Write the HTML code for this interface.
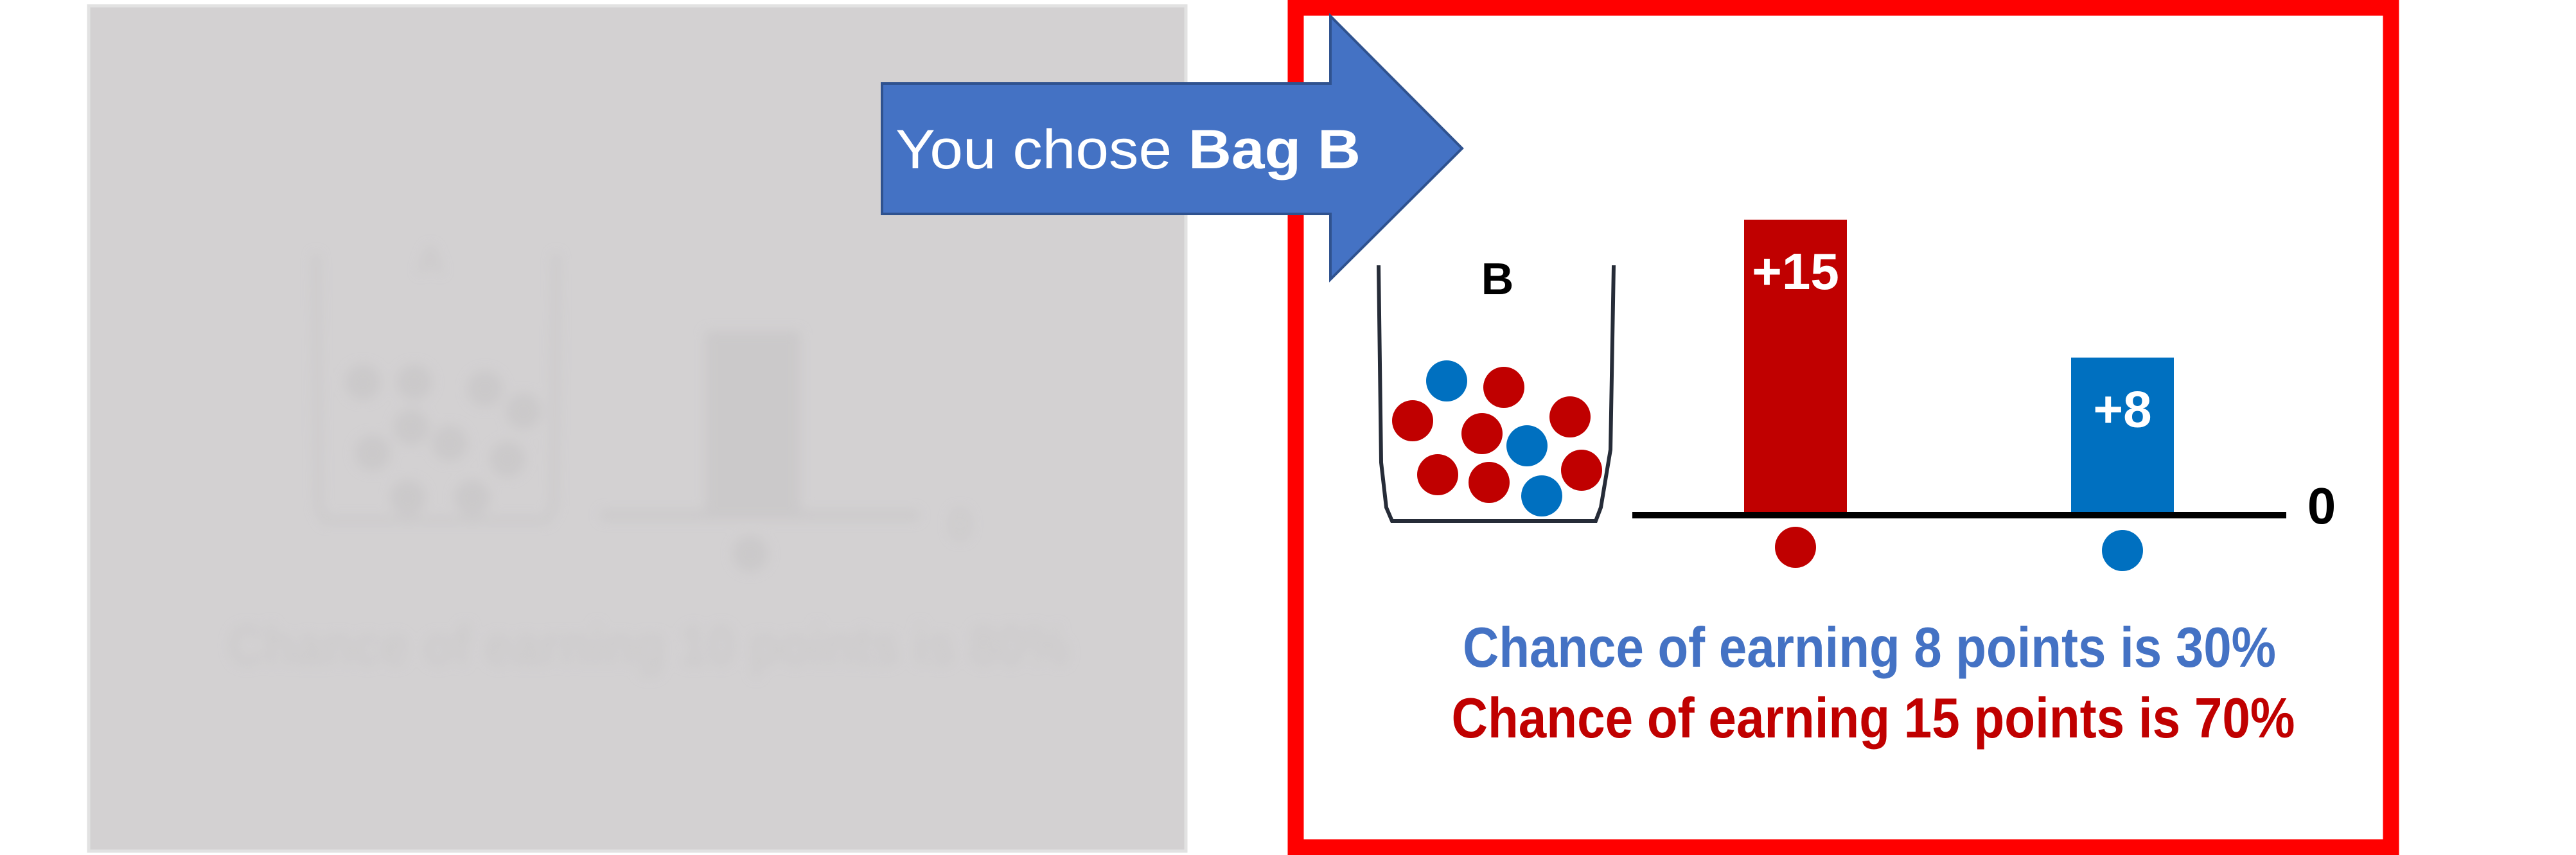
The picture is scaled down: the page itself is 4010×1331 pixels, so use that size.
<!DOCTYPE html>
<html><head><meta charset="utf-8"><style>
html,body{margin:0;padding:0;background:#fff;}
svg{display:block;}
text{font-family:"Liberation Sans",sans-serif;}
</style></head><body>
<svg id="chart" width="4010" height="1331" viewBox="0 0 4010 1331" xmlns="http://www.w3.org/2000/svg">
<defs><filter id="blur" x="-10%" y="-10%" width="120%" height="120%"><feGaussianBlur stdDeviation="9"/></filter></defs>
<rect width="4010" height="1331" fill="#ffffff"/>
<g>
<rect x="138" y="9" width="1708" height="1316" fill="#d3d1d2" stroke="#e2e2e2" stroke-width="5"/>
<g filter="url(#blur)" opacity="0.55">
<path d="M492 395 L496 790 L506 810 L850 810 L862 790 L866 395" fill="none" stroke="#c5c3c4" stroke-width="10"/>
<text x="670" y="425" font-size="60" font-weight="bold" fill="#c5c3c4" text-anchor="middle">A</text>
<circle cx="565" cy="595" r="28" fill="#c5c3c4"/><circle cx="645" cy="595" r="28" fill="#c5c3c4"/>
<circle cx="755" cy="605" r="28" fill="#c5c3c4"/><circle cx="815" cy="640" r="28" fill="#c5c3c4"/>
<circle cx="580" cy="705" r="28" fill="#c5c3c4"/><circle cx="700" cy="690" r="28" fill="#c5c3c4"/>
<circle cx="790" cy="715" r="28" fill="#c5c3c4"/><circle cx="635" cy="775" r="28" fill="#c5c3c4"/>
<circle cx="735" cy="775" r="28" fill="#c5c3c4"/><circle cx="640" cy="665" r="28" fill="#c5c3c4"/>
<rect x="1098" y="515" width="148" height="290" fill="#c5c3c4"/>
<rect x="935" y="795" width="495" height="14" fill="#c5c3c4"/>
<text x="1475" y="840" font-size="70" font-weight="bold" fill="#c5c3c4">0</text>
<circle cx="1168" cy="862" r="28" fill="#c5c3c4"/>
<text x="1010" y="1035" font-size="88" font-weight="bold" fill="#c8c6c7" text-anchor="middle" textLength="1310" lengthAdjust="spacingAndGlyphs">Chance of earning 10 points is 80%</text>
</g></g>
<rect x="2017" y="12" width="1705" height="1307" fill="#ffffff" stroke="#ff0000" stroke-width="25"/>
<path d="M1373 130 L2071 130 L2071 25 L2276 231 L2071 435 L2071 333 L1373 333 Z" fill="#4472c4" stroke="#2f528f" stroke-width="4"/>
<text x="1394" y="262" font-size="86" fill="#ffffff" textLength="724" lengthAdjust="spacingAndGlyphs">You chose <tspan font-weight="bold">Bag B</tspan></text>
<path d="M2146 413 L2150 720 L2158 790 L2167 811 L2484 811 L2492 790 L2507 700 L2512 413" fill="none" stroke="#262c38" stroke-width="6"/>
<text x="2331" y="458" font-size="70" font-weight="bold" fill="#000" text-anchor="middle">B</text>
<g id="balls"></g>
<g id="bars"></g>
<text x="2910" y="1038" font-size="88" font-weight="bold" fill="#4472c4" text-anchor="middle" textLength="1266" lengthAdjust="spacingAndGlyphs">Chance of earning 8 points is 30%</text>
<text x="2916" y="1148" font-size="88" font-weight="bold" fill="#c00000" text-anchor="middle" textLength="1313" lengthAdjust="spacingAndGlyphs">Chance of earning 15 points is 70%</text>
</svg>
<script>
const categories = ["red", "blue"];
const values = [15, 8];
const barColors = ["#c00000", "#0070c0"];

const NS = "http://www.w3.org/2000/svg";
const zeroY = 802, pxPerUnit = 30.67;
function yScale(v){ return zeroY - v * pxPerUnit; }
function xCenter(i){ return 2795 + i * 509; }
const barW = 160;
const g = document.getElementById('bars');
categories.forEach((c, i) => {
  const r = document.createElementNS(NS, 'rect');
  
  
  r.setAttribute('x', xCenter(i) - barW / 2);
  r.setAttribute('y', yScale(values[i]));
  r.setAttribute('width', barW);
  r.setAttribute('height', zeroY - yScale(values[i]));
  r.setAttribute('fill', barColors[i]);
  g.appendChild(r);
  const t = document.createElementNS(NS, 'text');
  
  
  t.setAttribute('x', xCenter(i));
  t.setAttribute('y', yScale(values[i]) + 108);
  t.setAttribute('text-anchor', 'middle');
  t.setAttribute('font-size', '80');
  t.setAttribute('font-weight', 'bold');
  t.setAttribute('fill', '#fff');
  t.textContent = '+' + values[i];
  g.appendChild(t);
  const d = document.createElementNS(NS, 'circle');
  
  
  d.setAttribute('cx', xCenter(i));
  d.setAttribute('cy', 852 + i * 5);
  d.setAttribute('r', 32);
  d.setAttribute('fill', barColors[i]);
  g.appendChild(d);
});
const axis = document.createElementNS(NS, 'rect');


axis.setAttribute('x', 2541); axis.setAttribute('y', zeroY - 5);
axis.setAttribute('width', 1018); axis.setAttribute('height', 10);
axis.setAttribute('fill', '#000');
g.appendChild(axis);
const zl = document.createElementNS(NS, 'text');


zl.setAttribute('x', 3614); zl.setAttribute('y', 815);
zl.setAttribute('text-anchor', 'middle');
zl.setAttribute('font-size', '80'); zl.setAttribute('font-weight', 'bold');
zl.textContent = '0';
g.appendChild(zl);

const ballPos = [[2252,593,'b'],[2341,603,'r'],[2199,655,'r'],[2307,675,'r'],[2377,694,'b'],[2444,649,'r'],[2238,739,'r'],[2318,751,'r'],[2400,772,'b'],[2462,732,'r']];
const bg = document.getElementById('balls');
ballPos.forEach(p => {
  const c = document.createElementNS(NS, 'ellipse');
  
  
  c.setAttribute('cx', p[0]); c.setAttribute('cy', p[1]);
  c.setAttribute('rx', 32); c.setAttribute('ry', 32);
  c.setAttribute('fill', p[2] === 'r' ? '#c00000' : '#0070c0');
  bg.appendChild(c);
});
</script>
</body></html>
